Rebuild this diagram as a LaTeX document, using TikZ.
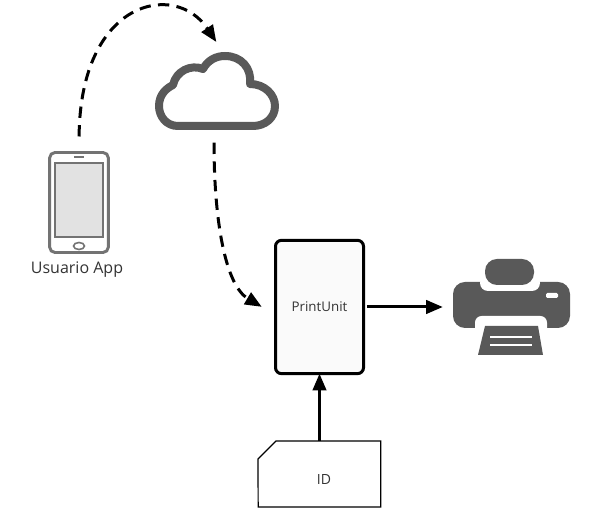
\documentclass[tikz,border=0pt]{standalone}
\usepackage{fontspec}
\setmainfont{Open Sans}
\usepackage{tikz}
\usetikzlibrary{arrows.meta}
\definecolor{icongray}{HTML}{595959}
\definecolor{screengray}{HTML}{E2E2E2}
\tikzset{
    flow/.style={line width=2.25pt,-{Triangle[length=12.5pt,width=10pt]}},
    flowdash/.style={flow,dash pattern=on 8.5pt off 5.5pt},
    spot/.style={inner sep=0pt,outer sep=0pt},
}

\begin{document}
\begin{tikzpicture}[x=0.75pt,y=-0.75pt]
    \useasboundingbox (0,0) rectangle (594,530);
    % Draw phone
    \node[spot,draw=gray!90!black,line width=2.2pt,rounded corners=4pt,minimum width=44pt,minimum height=75pt] (phone) at (79,202.5) {};
    \node[spot,draw=gray!90!black,fill=screengray,line width=1.3pt,minimum width=35.5pt,minimum height=55pt] (screen) at (79,200) {};
    \draw[gray!90!black,line width=1.2pt] (74,157) -- (84,157);
    \draw[gray!90!black,line width=1.2pt] (79,246) ellipse (5.5 and 3.5);
    \node[spot,font=\fontsize{12pt}{14pt}\selectfont,text=black!80] (user) at (77,270) {Usuario App};
    % Draw cloud
    \node[spot,minimum width=93pt,minimum height=58.5pt] (cloud) at (217,91) {};
    \draw[icongray,line width=6pt,line join=round]
        (178,126) .. controls (166,126) and (159,116) .. (159,106)
        .. controls (159,94) and (167,88) .. (173,85)
        .. controls (176,71) and (191,64) .. (203,69)
        .. controls (208,60) and (216,56) .. (225,56)
        .. controls (241,56) and (252,68) .. (250,84)
        .. controls (265,84) and (275,95) .. (275,106)
        .. controls (275,118) and (265,126) .. (253,126) -- cycle;
    % Draw print unit
    \node[spot,draw,fill=gray!4,line width=2.25pt,rounded corners=4.5pt,minimum width=66pt,minimum height=100pt,font=\fontsize{10pt}{12pt}\selectfont,text=black!80] (unit) at (319.5,307) {PrintUnit};
    % Draw printer
    \node[spot,minimum width=88pt,minimum height=72pt] (printer) at (511.5,307) {};
    \fill[icongray,rounded corners=9pt] (453,282) rectangle (570,328);
    \fill[white,rounded corners=5pt] (475,316) rectangle (547,340);
    \fill[white,rounded corners=6pt] (480,275) rectangle (540,291);
    \fill[icongray,rounded corners=9pt] (485,259) rectangle (534,285);
    \fill[icongray] (485,326) -- (538,326) -- (543,355) -- (478,355) -- cycle;
    \fill[white,rounded corners=1pt] (546,293) rectangle (558,298);
    \draw[white,line width=0.8pt] (490,337) -- (532,337);
    \draw[white,line width=0.8pt] (490,345) -- (532,345);
    % Draw ID card
    \node[spot,minimum width=92pt,minimum height=49.5pt] (card) at (319.5,474) {};
    \draw[line width=0.9pt] (card.south west) -- (258,459) -- (276,441) -- (card.north east) -- (card.south east) -- cycle;
    \node[spot,font=\fontsize{10.5pt}{12pt}\selectfont,text=black!80] (idtext) at (324,480) {ID};
    % Draw connectors
    \draw[flowdash,shorten <=12pt,shorten >=9pt] (phone.north) .. controls (80,0) and (175,-20) .. ([xshift=4.5pt]cloud.north);
    \draw[flowdash,shorten <=9.5pt,shorten >=12pt] ([xshift=-2.25pt]cloud.south) .. controls (214,220) and (225,285) .. ([yshift=-6pt]unit.west);
    \draw[flow,shorten <=2.5pt,shorten >=7.5pt] (unit.east) -- (printer.west);
    \draw[flow] (card.north) -- (unit.south);
\end{tikzpicture}
\end{document}
